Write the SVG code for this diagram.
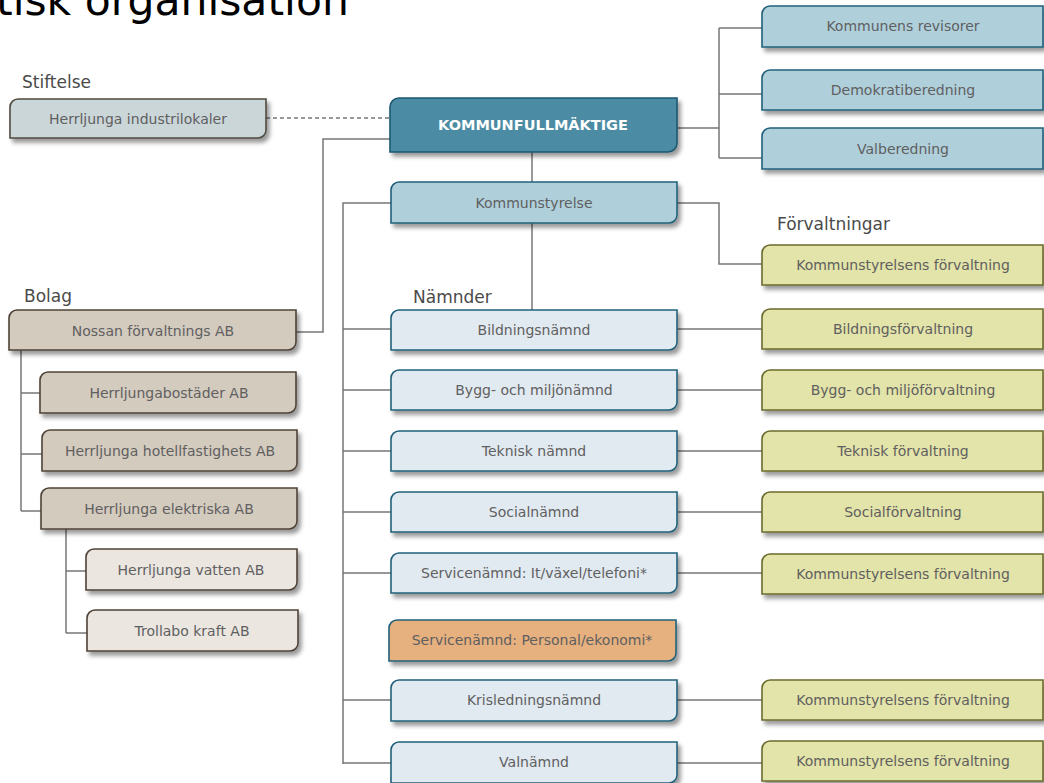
<svg xmlns="http://www.w3.org/2000/svg" width="1044" height="783" viewBox="0 0 1044 783">
<defs>
<filter id="sh" x="-10%" y="-30%" width="125%" height="180%">
<feDropShadow dx="3" dy="4" stdDeviation="2" flood-color="#000" flood-opacity="0.4"/>
</filter>
<style>
.b{stroke-width:1.6;filter:url(#sh)}
.kf{fill:#4b8ba3;stroke:#1d5870}
.lb{fill:#afcfdb;stroke:#22617a}
.nm{fill:#e2eaf1;stroke:#22617a}
.or{fill:#e6b07f;stroke:#22617a}
.gr{fill:#e3e4a9;stroke:#6b6b2e}
.tn{fill:#d4cbbf;stroke:#4f4338}
.lt{fill:#ebe6e0;stroke:#4f4338}
.gy{fill:#cbd6d9;stroke:#4f4a40}
text{font-family:"DejaVu Sans","Liberation Sans",sans-serif}
.t{font-size:14px;fill:#606060;text-anchor:middle}
.tw{font-size:14.5px;font-weight:bold;fill:#fff;text-anchor:middle}
.h{font-size:17px;fill:#4a4a4a}
.c{fill:none;stroke:#777;stroke-width:1.5}
.d{stroke-dasharray:4 3}
</style>
</defs>
<text x="-4" y="15" style="font-size:42.5px;fill:#000">tisk organisation</text>
<text class="h" x="22" y="88">Stiftelse</text>
<text class="h" x="24" y="302">Bolag</text>
<text class="h" x="413" y="303">Nämnder</text>
<text class="h" x="777" y="230">Förvaltningar</text>
<g id="connectors">
<path class="c d" d="M266 118H390"/>
<path class="c" d="M677 128H719M719 28V158M719 28H762M719 94H762M719 158H762"/>
<path class="c" d="M532 152V182"/>
<path class="c" d="M391 203H343V764"/>
<path class="c" d="M677 203H719V264H762"/>
<path class="c" d="M532 223V310"/>
<path class="c" d="M343 329H391M343 390H391M343 451H391M343 512H391M343 573H391M343 700H391M343 763H391"/>
<path class="c" d="M677 329H762M677 390H762M677 451H762M677 512H762M677 573H762M677 700H762M677 763H762"/>
<path class="c" d="M296 332H323V139H390"/>
<path class="c" d="M21 350V511M21 393H40M21 454H42M21 511H41"/>
<path class="c" d="M66 529V633M66 571H86M66 633H87"/>
</g>
<g id="n-industrilokaler"><path class="b gy" d="M18 99H266V130A8 8 0 0 1 258 138H10V107A8 8 0 0 1 18 99Z"/><text class="t" x="138" y="124">Herrljunga industrilokaler</text></g>
<g id="n-kf"><path class="b kf" d="M399 98H677V143A9 9 0 0 1 668 152H390V107A9 9 0 0 1 399 98Z"/><text class="tw" x="533" y="130">KOMMUNFULLMÄKTIGE</text></g>
<g id="n-revisorer"><path class="b lb" d="M770 6H1043V47H762V14A8 8 0 0 1 770 6Z"/><text class="t" x="903" y="31">Kommunens revisorer</text></g>
<g id="n-demokrati"><path class="b lb" d="M770 70H1043V110H762V78A8 8 0 0 1 770 70Z"/><text class="t" x="903" y="95">Demokratiberedning</text></g>
<g id="n-valberedning"><path class="b lb" d="M770 128H1043V169H762V136A8 8 0 0 1 770 128Z"/><text class="t" x="903" y="154">Valberedning</text></g>
<g id="n-ks"><path class="b lb" d="M399 182H677V215A8 8 0 0 1 669 223H391V190A8 8 0 0 1 399 182Z"/><text class="t" x="534" y="208">Kommunstyrelse</text></g>
<g id="n-ksf"><path class="b gr" d="M770 245H1043V285H762V253A8 8 0 0 1 770 245Z"/><text class="t" x="903" y="270">Kommunstyrelsens förvaltning</text></g>
<g id="n-nossan"><path class="b tn" d="M17 310H296V342A8 8 0 0 1 288 350H9V318A8 8 0 0 1 17 310Z"/><text class="t" x="153" y="336">Nossan förvaltnings AB</text></g>
<g id="n-bostader"><path class="b tn" d="M48 372H296V405A8 8 0 0 1 288 413H40V380A8 8 0 0 1 48 372Z"/><text class="t" x="169" y="398">Herrljungabostäder AB</text></g>
<g id="n-hotell"><path class="b tn" d="M50 430H297V463A8 8 0 0 1 289 471H42V438A8 8 0 0 1 50 430Z"/><text class="t" x="170" y="456">Herrljunga hotellfastighets AB</text></g>
<g id="n-elektriska"><path class="b tn" d="M49 488H297V521A8 8 0 0 1 289 529H41V496A8 8 0 0 1 49 488Z"/><text class="t" x="169" y="514">Herrljunga elektriska AB</text></g>
<g id="n-vatten"><path class="b lt" d="M94 549H297V582A8 8 0 0 1 289 590H86V557A8 8 0 0 1 94 549Z"/><text class="t" x="191" y="575">Herrljunga vatten AB</text></g>
<g id="n-trollabo"><path class="b lt" d="M95 610H298V643A8 8 0 0 1 290 651H87V618A8 8 0 0 1 95 610Z"/><text class="t" x="192" y="636">Trollabo kraft AB</text></g>
<g id="n-bildning"><path class="b nm" d="M399 310H677V342A8 8 0 0 1 669 350H391V318A8 8 0 0 1 399 310Z"/><text class="t" x="534" y="335">Bildningsnämnd</text></g>
<g id="n-bygg"><path class="b nm" d="M399 370H677V402A8 8 0 0 1 669 410H391V378A8 8 0 0 1 399 370Z"/><text class="t" x="534" y="395">Bygg- och miljönämnd</text></g>
<g id="n-teknisk"><path class="b nm" d="M399 431H677V463A8 8 0 0 1 669 471H391V439A8 8 0 0 1 399 431Z"/><text class="t" x="534" y="456">Teknisk nämnd</text></g>
<g id="n-social"><path class="b nm" d="M399 492H677V524A8 8 0 0 1 669 532H391V500A8 8 0 0 1 399 492Z"/><text class="t" x="534" y="517">Socialnämnd</text></g>
<g id="n-service-it"><path class="b nm" d="M399 553H677V585A8 8 0 0 1 669 593H391V561A8 8 0 0 1 399 553Z"/><text class="t" x="534" y="578">Servicenämnd: It/växel/telefoni*</text></g>
<g id="n-service-pe"><path class="b or" d="M397 620H676V653A8 8 0 0 1 668 661H389V628A8 8 0 0 1 397 620Z"/><text class="t" x="532" y="645">Servicenämnd: Personal/ekonomi*</text></g>
<g id="n-kris"><path class="b nm" d="M399 680H677V713A8 8 0 0 1 669 721H391V688A8 8 0 0 1 399 680Z"/><text class="t" x="534" y="705">Krisledningsnämnd</text></g>
<g id="n-val"><path class="b nm" d="M399 742H677V775A8 8 0 0 1 669 783H391V750A8 8 0 0 1 399 742Z"/><text class="t" x="534" y="767">Valnämnd</text></g>
<g id="n-bildningf"><path class="b gr" d="M770 309H1043V349H762V317A8 8 0 0 1 770 309Z"/><text class="t" x="903" y="334">Bildningsförvaltning</text></g>
<g id="n-byggf"><path class="b gr" d="M770 370H1043V410H762V378A8 8 0 0 1 770 370Z"/><text class="t" x="903" y="395">Bygg- och miljöförvaltning</text></g>
<g id="n-tekniskf"><path class="b gr" d="M770 431H1043V471H762V439A8 8 0 0 1 770 431Z"/><text class="t" x="903" y="456">Teknisk förvaltning</text></g>
<g id="n-socialf"><path class="b gr" d="M770 492H1043V532H762V500A8 8 0 0 1 770 492Z"/><text class="t" x="903" y="517">Socialförvaltning</text></g>
<g id="n-ksf2"><path class="b gr" d="M770 554H1043V594H762V562A8 8 0 0 1 770 554Z"/><text class="t" x="903" y="579">Kommunstyrelsens förvaltning</text></g>
<g id="n-ksf3"><path class="b gr" d="M770 680H1043V720H762V688A8 8 0 0 1 770 680Z"/><text class="t" x="903" y="705">Kommunstyrelsens förvaltning</text></g>
<g id="n-ksf4"><path class="b gr" d="M770 741H1043V781H762V749A8 8 0 0 1 770 741Z"/><text class="t" x="903" y="766">Kommunstyrelsens förvaltning</text></g>
</svg>
